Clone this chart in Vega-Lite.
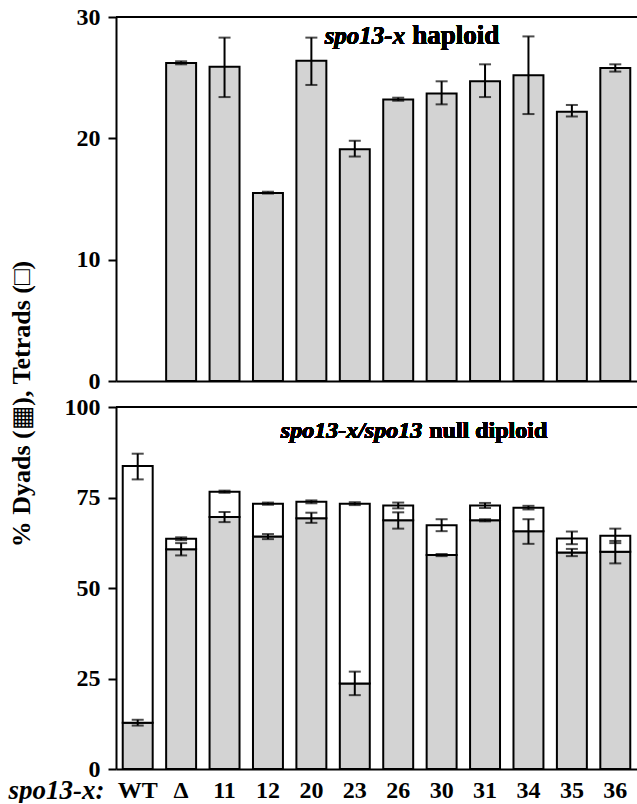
{
  "$schema": "https://vega.github.io/schema/vega-lite/v6.json",
  "padding": {"left": 8, "top": 5, "right": 0, "bottom": 0},
  "background": "white",
  "config": {
    "view": {"stroke": null},
    "font": "Liberation Serif",
    "axis": {
      "grid": false,
      "domainColor": "black",
      "domainWidth": 2,
      "tickColor": "black",
      "tickWidth": 2,
      "tickSize": 8,
      "labelFont": "Liberation Serif",
      "labelFontSize": 24,
      "labelFontWeight": "bold",
      "labelColor": "black",
      "labelPadding": 8
    }
  },
  "title": {
    "text": "% Dyads (▦), Tetrads (□)",
    "orient": "left",
    "anchor": "middle",
    "font": "Liberation Serif, DejaVu Sans",
    "fontSize": 26,
    "fontWeight": "bold",
    "color": "black",
    "offset": -27
  },
  "bounds": "flush",
  "spacing": 26,
  "datasets": {
    "haploid": [
      {"strain": "Δ", "value": 26.2, "errLo": 26.1, "errHi": 26.35},
      {"strain": "11", "value": 25.9, "errLo": 23.4, "errHi": 28.3},
      {"strain": "12", "value": 15.5, "errLo": 15.45, "errHi": 15.6},
      {"strain": "20", "value": 26.4, "errLo": 24.4, "errHi": 28.3},
      {"strain": "23", "value": 19.1, "errLo": 18.5, "errHi": 19.8},
      {"strain": "26", "value": 23.2, "errLo": 23.1, "errHi": 23.35},
      {"strain": "30", "value": 23.7, "errLo": 22.8, "errHi": 24.7},
      {"strain": "31", "value": 24.7, "errLo": 23.4, "errHi": 26.1},
      {"strain": "34", "value": 25.2, "errLo": 22.0, "errHi": 28.4},
      {"strain": "35", "value": 22.2, "errLo": 21.8, "errHi": 22.75},
      {"strain": "36", "value": 25.8, "errLo": 25.5, "errHi": 26.1}
    ],
    "diploid": [
      {"strain": "WT", "class": "Dyads", "lo": 0, "hi": 12.8, "errLo": 12.0, "errHi": 13.6},
      {"strain": "WT", "class": "Tetrads", "lo": 12.8, "hi": 83.7, "errLo": 80.0, "errHi": 87.1},
      {"strain": "Δ", "class": "Dyads", "lo": 0, "hi": 60.7, "errLo": 59.0, "errHi": 62.4},
      {"strain": "Δ", "class": "Tetrads", "lo": 60.7, "hi": 63.6, "errLo": 63.2, "errHi": 64.0},
      {"strain": "11", "class": "Dyads", "lo": 0, "hi": 69.6, "errLo": 68.2, "errHi": 71.0},
      {"strain": "11", "class": "Tetrads", "lo": 69.6, "hi": 76.6, "errLo": 76.3, "errHi": 76.9},
      {"strain": "12", "class": "Dyads", "lo": 0, "hi": 64.2, "errLo": 63.5, "errHi": 64.9},
      {"strain": "12", "class": "Tetrads", "lo": 64.2, "hi": 73.3, "errLo": 73.0, "errHi": 73.6},
      {"strain": "20", "class": "Dyads", "lo": 0, "hi": 69.3, "errLo": 68.0, "errHi": 70.8},
      {"strain": "20", "class": "Tetrads", "lo": 69.3, "hi": 73.8, "errLo": 73.4, "errHi": 74.2},
      {"strain": "23", "class": "Dyads", "lo": 0, "hi": 23.6, "errLo": 20.4, "errHi": 26.9},
      {"strain": "23", "class": "Tetrads", "lo": 23.6, "hi": 73.3, "errLo": 72.9, "errHi": 73.7},
      {"strain": "26", "class": "Dyads", "lo": 0, "hi": 68.7, "errLo": 66.4, "errHi": 70.9},
      {"strain": "26", "class": "Tetrads", "lo": 68.7, "hi": 72.8, "errLo": 72.0, "errHi": 73.6},
      {"strain": "30", "class": "Dyads", "lo": 0, "hi": 59.1, "errLo": 58.8, "errHi": 59.4},
      {"strain": "30", "class": "Tetrads", "lo": 59.1, "hi": 67.3, "errLo": 65.7, "errHi": 69.0},
      {"strain": "31", "class": "Dyads", "lo": 0, "hi": 68.7, "errLo": 68.4, "errHi": 69.0},
      {"strain": "31", "class": "Tetrads", "lo": 68.7, "hi": 72.8, "errLo": 72.1, "errHi": 73.5},
      {"strain": "34", "class": "Dyads", "lo": 0, "hi": 65.7, "errLo": 62.2, "errHi": 69.0},
      {"strain": "34", "class": "Tetrads", "lo": 65.7, "hi": 72.2, "errLo": 71.7, "errHi": 72.7},
      {"strain": "35", "class": "Dyads", "lo": 0, "hi": 59.8, "errLo": 58.8, "errHi": 60.8},
      {"strain": "35", "class": "Tetrads", "lo": 59.8, "hi": 63.7, "errLo": 62.1, "errHi": 65.6},
      {"strain": "36", "class": "Dyads", "lo": 0, "hi": 60.0, "errLo": 56.8, "errHi": 63.0},
      {"strain": "36", "class": "Tetrads", "lo": 60.0, "hi": 64.4, "errLo": 62.4, "errHi": 66.4}
    ]
  },
  "vconcat": [
    {
      "width": 521,
      "height": 364,
      "data": {"name": "haploid"},
      "encoding": {
        "x": {
          "field": "strain",
          "type": "nominal",
          "sort": null,
          "scale": {"domain": ["WT", "Δ", "11", "12", "20", "23", "26", "30", "31", "34", "35", "36"], "paddingInner": 0.31, "paddingOuter": 0.155},
          "axis": {"labels": false, "ticks": false, "title": null, "domain": true}
        }
      },
      "layer": [
        {
          "mark": {"type": "bar", "fill": "#d3d3d3", "stroke": "black", "strokeWidth": 2},
          "encoding": {
            "y": {"field": "value", "type": "quantitative", "scale": {"domain": [0, 30]}, "axis": {"values": [0, 10, 20, 30], "title": null}}
          }
        },
        {
          "mark": {"type": "errorbar", "color": "black", "ticks": {"size": 12, "thickness": 2, "color": "black"}, "rule": {"strokeWidth": 2, "color": "black"}},
          "encoding": {
            "y": {"field": "errLo", "type": "quantitative"},
            "y2": {"field": "errHi"}
          }
        },
        {
          "mark": {"type": "rule", "color": "black", "strokeWidth": 2},
          "encoding": {"y": {"datum": 30}, "x": {"value": 0}, "x2": {"value": 521}}
        },
        {
          "mark": {"type": "text", "text": "spo13-x", "font": "Liberation Serif", "fontSize": 25, "fontStyle": "italic", "fontWeight": "bold", "align": "right", "baseline": "alphabetic", "dx": 7, "color": "black"},
          "encoding": {"x": {"datum": "26"}, "y": {"datum": 27.8}}
        },
        {
          "mark": {"type": "text", "text": "haploid", "font": "Liberation Serif", "fontSize": 27, "fontWeight": "bold", "align": "left", "baseline": "alphabetic", "dx": 14, "color": "black"},
          "encoding": {"x": {"datum": "26"}, "y": {"datum": 27.8}}
        }
      ]
    },
    {
      "width": 521,
      "height": 362,
      "data": {"name": "diploid"},
      "encoding": {
        "x": {
          "field": "strain",
          "type": "nominal",
          "sort": null,
          "scale": {"domain": ["WT", "Δ", "11", "12", "20", "23", "26", "30", "31", "34", "35", "36"], "paddingInner": 0.31, "paddingOuter": 0.155},
          "axis": {"ticks": false, "labelAngle": 0, "labelPadding": 9, "title": "spo13-x:", "titleFont": "Liberation Serif", "titleFontSize": 27, "titleFontStyle": "italic", "titleFontWeight": "bold", "titleColor": "black", "titleX": -12, "titleY": 29, "titleAlign": "right", "titleBaseline": "alphabetic", "titleAnchor": null}
        }
      },
      "layer": [
        {
          "mark": {"type": "bar", "stroke": "black", "strokeWidth": 2},
          "encoding": {
            "y": {"field": "hi", "type": "quantitative", "scale": {"domain": [0, 100]}, "axis": {"values": [0, 25, 50, 75, 100], "title": null}},
            "y2": {"field": "lo"},
            "fill": {"field": "class", "type": "nominal", "scale": {"domain": ["Dyads", "Tetrads"], "range": ["#d3d3d3", "#ffffff"]}, "legend": null}
          }
        },
        {
          "mark": {"type": "errorbar", "color": "black", "ticks": {"size": 12, "thickness": 2, "color": "black"}, "rule": {"strokeWidth": 2, "color": "black"}},
          "encoding": {
            "y": {"field": "errLo", "type": "quantitative"},
            "y2": {"field": "errHi"}
          }
        },
        {
          "mark": {"type": "rule", "color": "black", "strokeWidth": 2},
          "encoding": {"y": {"datum": 100}, "x": {"value": 0}, "x2": {"value": 521}}
        },
        {
          "mark": {"type": "text", "text": "spo13-x/spo13", "font": "Liberation Serif", "fontSize": 24, "fontStyle": "italic", "fontWeight": "bold", "align": "right", "baseline": "alphabetic", "dx": 24, "color": "black"},
          "encoding": {"x": {"datum": "26"}, "y": {"datum": 91.4}}
        },
        {
          "mark": {"type": "text", "text": "null diploid", "font": "Liberation Serif", "fontSize": 24, "fontWeight": "bold", "align": "left", "baseline": "alphabetic", "dx": 31, "color": "black"},
          "encoding": {"x": {"datum": "26"}, "y": {"datum": 91.4}}
        }
      ]
    }
  ]
}
